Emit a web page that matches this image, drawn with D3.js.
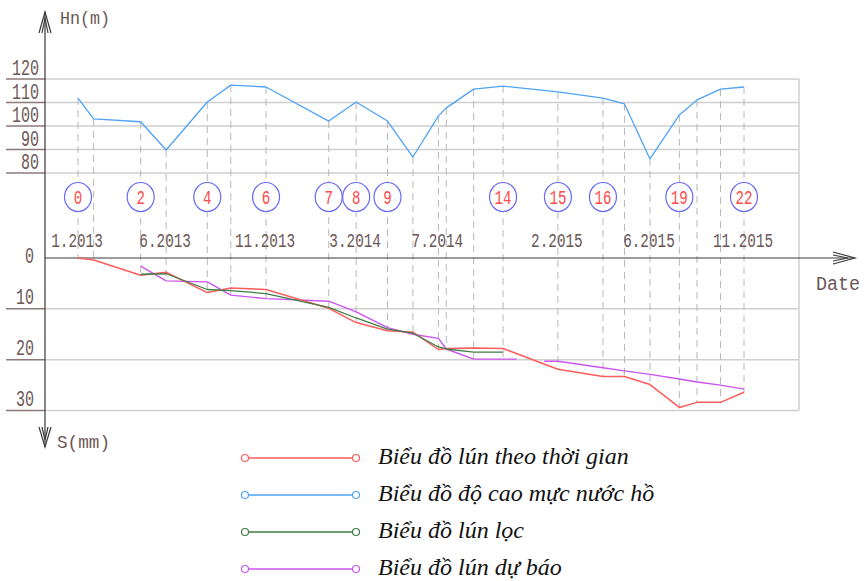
<!DOCTYPE html>
<html>
<head>
<meta charset="utf-8">
<script src="https://cdn.jsdelivr.net/npm/d3@7"></script>
<style>
  body { margin: 0; background: #fff; }
  svg { display: block; }
</style>
</head>
<body>
<div id="chart"></div>
<script>
const cycleMonth = [0, 0.8, 3.2, 4.5, 6.6, 7.8, 9.6, 12.8, 14.2, 15.8, 17.1, 18.4, 18.8,
                    20.2, 21.7, 24.5, 26.8, 27.9, 29.2, 30.7, 31.6, 32.8, 34];
// lake water level Hn (m)
const waterLevel = [111.9, 103.0, 101.8, 89.8, 110.2, 117.4, 116.6, 102.1, 110.2, 102.1, 86.8, 104.3,
                    107.7, 115.7, 117.0, 114.5, 111.9, 109.4, 86.0, 104.7, 111.1, 115.7, 116.6];
// settlement S (mm)
const settlement = [0, 0.4, 3.4, 2.8, 6.8, 5.9, 6.2, 9.9, 12.7, 14.3, 14.6, 18.0, 17.8,
                    17.7, 17.8, 21.9, 23.3, 23.3, 24.9, 29.4, 28.4, 28.4, 26.4];
const filtered = [null, null, 3.2, 3.1, 6.2, 6.4, 7.0, 9.7, 11.8, 14.0, 14.8, 17.5, 17.9,
                  18.5, 18.5, null, null, null, null, null, null, null, null];
// forecast has its own time points (with a break)
const forecastMonth = [3.2, 4.5, 6.6, 7.8, 9.6, 12.8, 14.2, 15.8, 17.1, 18.4, 18.8, 20.2, 21.7, 22.4,
                       23.0, 23.8, 24.5, 26.8, 27.9, 29.2, 30.7, 31.6, 32.8, 34];
const forecastValue = [1.6, 4.5, 4.7, 7.3, 8.0, 8.5, 10.6, 13.7, 15.0, 15.8, 17.9, 19.9, 19.9, 19.9,
                       null, 20.3, 20.3, 21.6, 22.2, 22.9, 23.8, 24.4, 25.0, 25.8];

const circledCycles = [0, 2, 4, 6, 7, 8, 9, 14, 15, 16, 19, 22];
const tickCycles = [0, 3, 6, 8, 11, 15, 18, 22];
const tickLabels = ["1.2013", "6.2013", "11.2013", "3.2014", "7.2014", "2.2015", "6.2015", "11.2015"];
const hnTicks = [80, 90, 100, 110, 120];
const sTicks = [0, 10, 20, 30];

const legendLabels = ["Biểu đồ lún theo thời gian", "Biểu đồ độ cao mực nước hồ",
                      "Biểu đồ lún lọc", "Biểu đồ lún dự báo"];
const legendColors = ["#ff5c5c", "#4fa3f7", "#3f7d46", "#cc55f2"];

const width = 868, height = 581;
const svg = d3.select("#chart").append("svg")
    .attr("width", width)
    .attr("height", height);

const x = d3.scaleLinear().domain([0, 34]).range([78, 744]);
const yH = d3.scaleLinear().domain([80, 120]).range([173, 79]);
const yS = d3.scaleLinear().domain([0, 30]).range([258, 410.5]);

const axisX = 45, boxRight = 799;
const labelColor = "#6b5656";

// CAD-like narrow text
function cadText(g, tx, ty, str, size, charW, anchor, color) {
    return g.append("text")
        .attr("x", tx)
        .attr("y", ty)
        .attr("font-family", "Liberation Mono, DejaVu Sans Mono, monospace")
        .attr("font-size", size)
        .attr("fill", color || labelColor)
        .attr("text-anchor", anchor || "middle")
        .attr("textLength", str.length * charW)
        .attr("lengthAdjust", "spacingAndGlyphs")
        .text(str);
}

// grid lines
const grid = svg.append("g");
hnTicks.forEach(v => {
    grid.append("line")
        .attr("x1", axisX).attr("x2", boxRight)
        .attr("y1", yH(v)).attr("y2", yH(v))
        .attr("stroke", "#cfcfcf").attr("stroke-width", 1.5);
    grid.append("line")
        .attr("x1", 6).attr("x2", axisX)
        .attr("y1", yH(v)).attr("y2", yH(v))
        .attr("stroke", "#8c7a7a").attr("stroke-width", 1.5);
    cadText(grid, 39, yH(v) - 4, String(v), 22, 9, "end");
});
sTicks.filter(v => v > 0).forEach(v => {
    grid.append("line")
        .attr("x1", axisX).attr("x2", boxRight)
        .attr("y1", yS(v)).attr("y2", yS(v))
        .attr("stroke", "#cfcfcf").attr("stroke-width", 1.5);
    grid.append("line")
        .attr("x1", 6).attr("x2", axisX)
        .attr("y1", yS(v)).attr("y2", yS(v))
        .attr("stroke", "#8c7a7a").attr("stroke-width", 1.5);
    cadText(grid, 34, yS(v) - 5, String(v), 22, 9, "end");
});
cadText(grid, 34, yS(0) + 5, "0", 22, 9, "end");
grid.append("line")
    .attr("x1", boxRight).attr("x2", boxRight)
    .attr("y1", yH(120)).attr("y2", yS(30))
    .attr("stroke", "#cfcfcf").attr("stroke-width", 1.5);

// dashed drop lines from water level to the lowest settlement point
const drops = svg.append("g");
cycleMonth.forEach((m, i) => {
    const fi = forecastMonth.indexOf(m);
    const vals = [settlement[i], filtered[i], fi >= 0 ? forecastValue[fi] : null]
        .filter(v => v != null);
    drops.append("line")
        .attr("x1", x(m)).attr("x2", x(m))
        .attr("y1", yH(waterLevel[i]))
        .attr("y2", yS(d3.max(vals)))
        .attr("stroke", "#b8b8b8")
        .attr("stroke-width", 1)
        .attr("stroke-dasharray", "7,5");
});

// axes
const axes = svg.append("g").attr("stroke", "#3a3a3a").attr("fill", "none").attr("stroke-width", 1.2);
axes.append("line").attr("x1", axisX).attr("x2", axisX).attr("y1", 12).attr("y2", 447);
axes.append("line").attr("x1", axisX).attr("x2", 855).attr("y1", yS(0)).attr("y2", yS(0));
axes.append("path").attr("d", "M39,33L45,12L51,33M42,33L45,18L48,33");
axes.append("path").attr("d", "M39,427L45,447L51,427M42,427L45,440L48,427");
axes.append("path").attr("d", "M833,252L855,258L833,264M833,255L848,258L833,261");

cadText(svg, 60, 24, "Hn(m)", 18, 10, "start");
cadText(svg, 57, 448, "S(mm)", 18, 10.6, "start");
cadText(svg, 816, 290, "Date", 20, 11, "start");

// date labels
tickCycles.forEach((c, i) => {
    cadText(svg, x(cycleMonth[c]) - 1, 247, tickLabels[i], 21, 8.6, "middle");
});

// cycle circles
const circ = svg.append("g");
circledCycles.forEach(c => {
    const cx = x(cycleMonth[c]);
    circ.append("ellipse")
        .attr("cx", cx).attr("cy", 197)
        .attr("rx", 13.5).attr("ry", 14.5)
        .attr("fill", "#fff")
        .attr("stroke", "#6a6af5")
        .attr("stroke-width", 1.2);
    cadText(circ, cx, 204, String(c), 20, 8.5, "middle", "#ff4a4a");
});

// series
const lineH = d3.line().x(d => x(d[0])).y(d => yH(d[1]));
const lineS = d3.line().defined(d => d[1] != null).x(d => x(d[0])).y(d => yS(d[1]));

const waterPts = cycleMonth.map((m, i) => [m, waterLevel[i]]);
const settlePts = cycleMonth.map((m, i) => [m, settlement[i]]);
const filterPts = cycleMonth.map((m, i) => [m, filtered[i]]);
const forecastPts = forecastMonth.map((m, i) => [m, forecastValue[i]]);

function drawSeries(pts, gen, color, w) {
    svg.append("path")
        .datum(pts)
        .attr("d", gen)
        .attr("fill", "none")
        .attr("stroke", color)
        .attr("stroke-width", w)
        .attr("stroke-linejoin", "round");
}
drawSeries(waterPts, lineH, legendColors[1], 1.3);
drawSeries(forecastPts, lineS, legendColors[3], 1.4);
drawSeries(settlePts, lineS, legendColors[0], 1.5);
drawSeries(filterPts, lineS, legendColors[2], 1.3);

// legend
const legend = svg.append("g");
legendLabels.forEach((lab, i) => {
    const ly = 458 + i * 37;
    legend.append("line")
        .attr("x1", 245).attr("x2", 356)
        .attr("y1", ly).attr("y2", ly)
        .attr("stroke", legendColors[i]).attr("stroke-width", 1.3);
    [245, 356].forEach(cx => {
        legend.append("circle")
            .attr("cx", cx).attr("cy", ly).attr("r", 3.5)
            .attr("fill", "#fff")
            .attr("stroke", legendColors[i]).attr("stroke-width", 1.2);
    });
    legend.append("text")
        .attr("x", 378)
        .attr("y", ly + 6)
        .attr("font-family", "Liberation Serif, serif")
        .attr("font-style", "italic")
        .attr("font-size", 24)
        .attr("fill", "#111")
        .text(lab);
});
</script>
</body>
</html>
